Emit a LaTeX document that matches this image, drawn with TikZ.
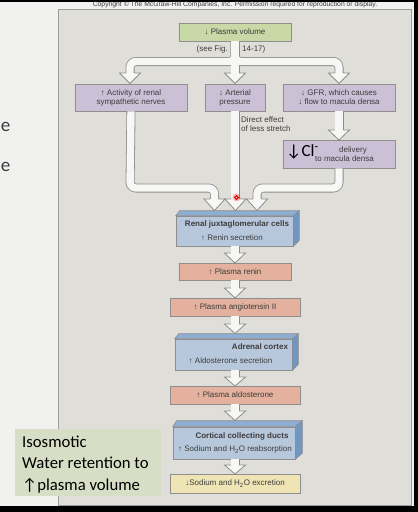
\documentclass[tikz,border=0pt]{standalone}
\usepackage{fontspec}
\setmainfont{Liberation Sans}
\newfontfamily\calfont{Carlito}
\definecolor{slidebg}{HTML}{F1F1F0}
\definecolor{panelbg}{HTML}{DFDED9}
\definecolor{panelline}{HTML}{9C9C9A}
\definecolor{pvgreen}{HTML}{C9D8A7}
\definecolor{lilac}{HTML}{CCC0D7}
\definecolor{blufront}{HTML}{B8C8DC}
\definecolor{blutop}{HTML}{8DAED3}
\definecolor{bluside}{HTML}{6F97C2}
\definecolor{salmon}{HTML}{E3B19D}
\definecolor{yellowbx}{HTML}{EFE5B4}
\definecolor{greenbox}{HTML}{D7DEC5}
\definecolor{boxline}{HTML}{8E8E8E}
\definecolor{arrline}{HTML}{8C8C8A}
\definecolor{arrfill}{HTML}{F7F7F5}
\definecolor{txtc}{HTML}{3C3C3C}
\newcommand\up{\textbf{↑}}
\newcommand\dn{\textbf{↓}}
\tikzset{
  bx/.style={draw=boxline, line width=0.6pt, inner sep=0pt, minimum height=18pt},
  txt/.style={font=\fontsize{8}{9}\selectfont, text=txtc, align=center, inner sep=0pt},
  ttl/.style={font=\bfseries\fontsize{8}{9}\selectfont, text=txtc, inner sep=0pt},
  shaftout/.style={draw=arrline, line width=9pt, rounded corners=6pt},
  shaftin/.style={draw=arrfill, line width=7.4pt, rounded corners=6pt},
  fathead/.style={fill=arrfill, draw=arrline, line width=0.8pt, line join=miter},
  topface/.style={fill=blutop, draw=boxline, line width=0.6pt},
  sideface/.style={fill=bluside, draw=boxline, line width=0.6pt},
  slidetxt/.style={font=\calfont\fontsize{16.7}{21.5}\selectfont, text=black, inner sep=0pt}
}
\newcommand\headat[3]{\path[fathead] ({#1-4.1},#2) -- ({#1-10.5},#2) -- (#1,#3) -- ({#1+10.5},#2) -- ({#1+4.1},#2);}
\newcommand\allshafts{%
  \path[sh] (pv.south) -- (235,61.5) -- (130,61.5) -- (130,74);
  \path[sh] (pv.south) -- (235,61.5) -- (339,61.5) -- (339,74);
  \path[sh] (pv.south) -- (235,74);
  \path[sh] (gfr.south) -- (339,131);
  \path[sh] (sym.south) -- (130,188) -- (214.5,188) -- (214.5,200);
  \path[sh] (art.south) -- (235,200);
  \path[sh] (cl.south) -- (339,188) -- (257,188) -- (257,200);
  \path[sh] (jg.south) ++(0.5,0) -- (235,254);
  \path[sh] (renin.south) -- (235,289);
  \path[sh] (angio.south) -- (235,325);
  \path[sh] (adr.south) ++(1.5,0) -- (235,378);
  \path[sh] (aldo.south) -- (235,412);
  \path[sh] (ccd.south) ++(1,0) -- (235,466);
}
\begin{document}
\begin{tikzpicture}[x=1pt,y=-1pt]
\useasboundingbox (0,0) rectangle (418,512);
\fill[black] (0,0) rectangle (418,512);
\fill[slidebg] (0,1.5) rectangle (413.5,506);
\node[font=\calfont\fontsize{19}{19}\selectfont, text=txtc, inner sep=0pt, anchor=west] (e1) at (0.6,127) {e};
\node[font=\calfont\fontsize{19}{19}\selectfont, text=txtc, inner sep=0pt, anchor=west] (e2) at (0.6,167) {e};
% panel
\draw[draw=panelline, fill=panelbg, line width=0.8pt] (58,9) rectangle (411,505);
\node[font=\fontsize{6.8}{7}\selectfont, text=txtc, inner sep=0pt] (copy) at (235,5)
  {Copyright © The McGraw-Hill Companies, Inc. Permission required for reproduction or display.};
% top boxes
\node[bx, fill=pvgreen, minimum width=112pt, minimum height=18pt, txt] (pv) at (235,32) {\dn\ Plasma volume};
\node[txt, anchor=east] (see1) at (228,49) {(see Fig.};
\node[txt, anchor=west] (see2) at (242,49) {14-17)};
\node[bx, fill=lilac, minimum width=112pt, minimum height=27pt, txt] (sym) at (131,97.5) {\up\ Activity of renal\\sympathetic nerves};
\node[bx, fill=lilac, minimum width=60pt, minimum height=27pt, txt] (art) at (235,97.5) {\dn\ Arterial\\pressure};
\node[bx, fill=lilac, minimum width=112pt, minimum height=27pt, txt] (gfr) at (339,97.5) {\dn\ GFR, which causes\\\dn\ flow to macula densa};
\node[txt, anchor=west, align=left] (direct) at (241,124) {Direct effect\\of less stretch};
\node[bx, fill=lilac, minimum width=112pt, minimum height=28pt] (cl) at (339,154) {};
\node[font=\calfont\fontsize{17}{17}\selectfont, text=black, anchor=base west, inner sep=0pt] (cltxt) at (286,156.5) {↓Cl\textsuperscript{-}};
\node[txt] (deliv) at (353,150) {delivery};
\node[txt] (tomac) at (344.5,159) {to macula densa};
% JG cells
\node[bx, fill=blufront, minimum width=117pt, minimum height=30pt] (jg) at (234.5,231) {};
\path[topface] (jg.north west) -- ++(4,-5) -- ([shift={(6,-5)}]jg.north east) -- (jg.north east) -- cycle;
\path[sideface] (jg.north east) -- ([shift={(6,-5)}]jg.north east) -- ([shift={(6,-6)}]jg.south east) -- (jg.south east) -- cycle;
\node[ttl] (jgt) at (237,224) {Renal juxtaglomerular cells};
\node[txt] (jgs) at (232,237.5) {\up\ Renin secretion};
\node[bx, fill=salmon, minimum width=112pt, minimum height=17pt, txt] (renin) at (235,271.5) {\up\ Plasma renin};
\node[bx, fill=salmon, minimum width=130pt, minimum height=18pt, txt] (angio) at (235,307) {\up\ Plasma angiotensin II};
% adrenal
\node[bx, fill=blufront, minimum width=117pt, minimum height=31pt] (adr) at (233.5,354.5) {};
\path[topface] (adr.north west) -- ++(4,-5) -- ([shift={(6,-5)}]adr.north east) -- (adr.north east) -- cycle;
\path[sideface] (adr.north east) -- ([shift={(6,-5)}]adr.north east) -- ([shift={(6,-6)}]adr.south east) -- (adr.south east) -- cycle;
\node[ttl] (adrt) at (260,347) {Adrenal cortex};
\node[txt] (adrs) at (230.5,361) {\up\ Aldosterone secretion};
\node[bx, fill=salmon, minimum width=130pt, minimum height=18pt, txt] (aldo) at (235,395) {\up\ Plasma aldosterone};
% cortical
\node[bx, fill=blufront, minimum width=122pt, minimum height=32pt] (ccd) at (234,443) {};
\path[topface] (ccd.north west) -- ++(4,-6) -- ([shift={(7,-6)}]ccd.north east) -- (ccd.north east) -- cycle;
\path[sideface] (ccd.north east) -- ([shift={(7,-6)}]ccd.north east) -- ([shift={(7,-6)}]ccd.south east) -- (ccd.south east) -- cycle;
\node[ttl] (ccdt) at (242,436) {Cortical collecting ducts};
\node[txt] (ccds) at (235,449.5) {\up\ Sodium and H\textsubscript{2}O reabsorption};
\node[bx, fill=yellowbx, minimum width=130pt, minimum height=19pt, txt] (na) at (235,483.5) {\dn Sodium and H\textsubscript{2}O excretion};
% fat arrows
\begin{scope}[sh/.style=shaftout]\allshafts\end{scope}
\begin{scope}[sh/.style=shaftin]\allshafts\end{scope}
\headat{130}{73}{83.5}
\headat{235}{73}{83.5}
\headat{339}{73}{83.5}
\headat{339}{130}{140}
\headat{214.5}{199}{210.5}
\headat{235.5}{199}{210.5}
\headat{257}{199}{210.5}
\headat{235}{253}{263}
\headat{235}{288}{298}
\headat{235}{324}{333.5}
\headat{235}{377}{386}
\headat{235}{411}{420.5}
\headat{235}{465}{474}
% red pointer dot
\fill[red, opacity=0.25] (236.5,197.5) circle (4);
\draw[red!90!black, line width=1.1pt, fill=pink!70] (236.5,197.5) circle (1.8);
% slide text box
\node[fill=greenbox, minimum width=146pt, minimum height=67pt, inner sep=0pt] (iso) at (88,462.5) {};
\node[slidetxt, anchor=base west] (l1) at (22,447) {Isosmotic};
\node[slidetxt, anchor=base west] (l2) at (22,468.5) {Water retention to};
\node[slidetxt, anchor=base west] (l3) at (22,490) {↑plasma volume};
\end{tikzpicture}
\end{document}
